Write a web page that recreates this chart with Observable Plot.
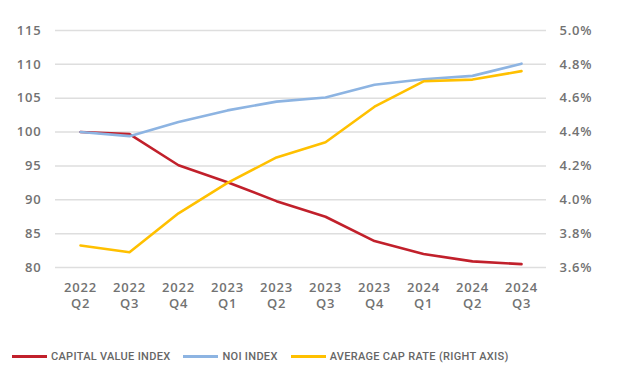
<!DOCTYPE html>
<html>
<head>
<meta charset="utf-8">
<script src="https://cdn.jsdelivr.net/npm/d3@7"></script>
<script src="https://cdn.jsdelivr.net/npm/@observablehq/plot@0.6"></script>
<style>
  html, body { margin: 0; padding: 0; background: #fff; }
  #chart { width: 617px; }
  .legend { display: flex; align-items: center; height: 34px; padding-top: 4px; padding-left: 12px;
    font-family: Roboto, "Liberation Sans", sans-serif; font-size: 11px; font-weight: 500;
    letter-spacing: 0.3px; color: #666; }
  .legend .item { display: flex; align-items: center; margin-right: 13px; }
  .legend .sw { width: 35px; height: 3px; margin-right: 4px; }
</style>
</head>
<body>
<div id="chart"></div>
<script>
const quarters = ["2022\nQ2","2022\nQ3","2022\nQ4","2023\nQ1","2023\nQ2","2023\nQ3","2023\nQ4","2024\nQ1","2024\nQ2","2024\nQ3"];
const capitalValueIndex = [100, 99.7, 95.1, 92.6, 89.8, 87.5, 83.9, 82.0, 80.9, 80.5];
const noiIndex = [100, 99.4, 101.5, 103.2, 104.5, 105.1, 107.0, 107.8, 108.3, 110.1];
const capRate = [3.73, 3.69, 3.92, 4.10, 4.25, 4.34, 4.55, 4.70, 4.71, 4.76];
const leftTicks = [80, 85, 90, 95, 100, 105, 110, 115];
const rightTicks = [3.6, 3.8, 4.0, 4.2, 4.4, 4.6, 4.8, 5.0];

const seriesNames = ["CAPITAL VALUE INDEX", "NOI INDEX", "AVERAGE CAP RATE (RIGHT AXIS)"];
const colors = ["#c1202b", "#8db4e2", "#ffc000"];

// map right-axis percent onto left index scale (3.6% -> 80, 5.0% -> 115)
const toLeft = r => 80 + (r - 3.6) * 25;

const rows = [];
quarters.forEach((q, i) => {
  rows.push({q, s: seriesNames[0], v: capitalValueIndex[i]});
  rows.push({q, s: seriesNames[1], v: noiIndex[i]});
  rows.push({q, s: seriesNames[2], v: toLeft(capRate[i])});
});

const font = "'Open Sans', sans-serif";
const plot = Plot.plot({
  width: 617,
  height: 335,
  marginTop: 30,
  marginBottom: 68,
  marginLeft: 55,
  marginRight: 71,
  style: {fontFamily: font, fontSize: "13px", fontWeight: 600, color: "#727272", letterSpacing: "0.8px"},
  x: {type: "point", domain: quarters, padding: 0.5, label: null},
  y: {domain: [80, 115], label: null},
  color: {domain: seriesNames, range: colors},
  marks: [
    Plot.ruleY(leftTicks, {stroke: "#dedede", strokeWidth: 1.5}),
    Plot.axisY({ticks: leftTicks, tickSize: 0, tickPadding: 14, label: null, anchor: "left"}),
    Plot.axisY({ticks: rightTicks.map(toLeft), tickSize: 0, tickPadding: 13, label: null, anchor: "right",
      tickFormat: (d) => ((d - 80) / 25 + 3.6).toFixed(1) + "%", textAnchor: "start"}),
    Plot.axisX({tickSize: 0, tickPadding: 13, label: null, lineHeight: 1.25}),
    Plot.line(rows, {x: "q", y: "v", z: "s", stroke: "s", strokeWidth: 2.6, curve: "linear"})
  ]
});
document.getElementById("chart").appendChild(plot);

const legend = document.createElement("div");
legend.className = "legend";
seriesNames.forEach((n, i) => {
  const it = document.createElement("div");
  it.className = "item";
  const sw = document.createElement("div");
  sw.className = "sw";
  sw.style.background = colors[i];
  const t = document.createElement("span");
  t.textContent = n;
  it.appendChild(sw); it.appendChild(t);
  legend.appendChild(it);
});
document.getElementById("chart").appendChild(legend);
</script>
</body>
</html>
